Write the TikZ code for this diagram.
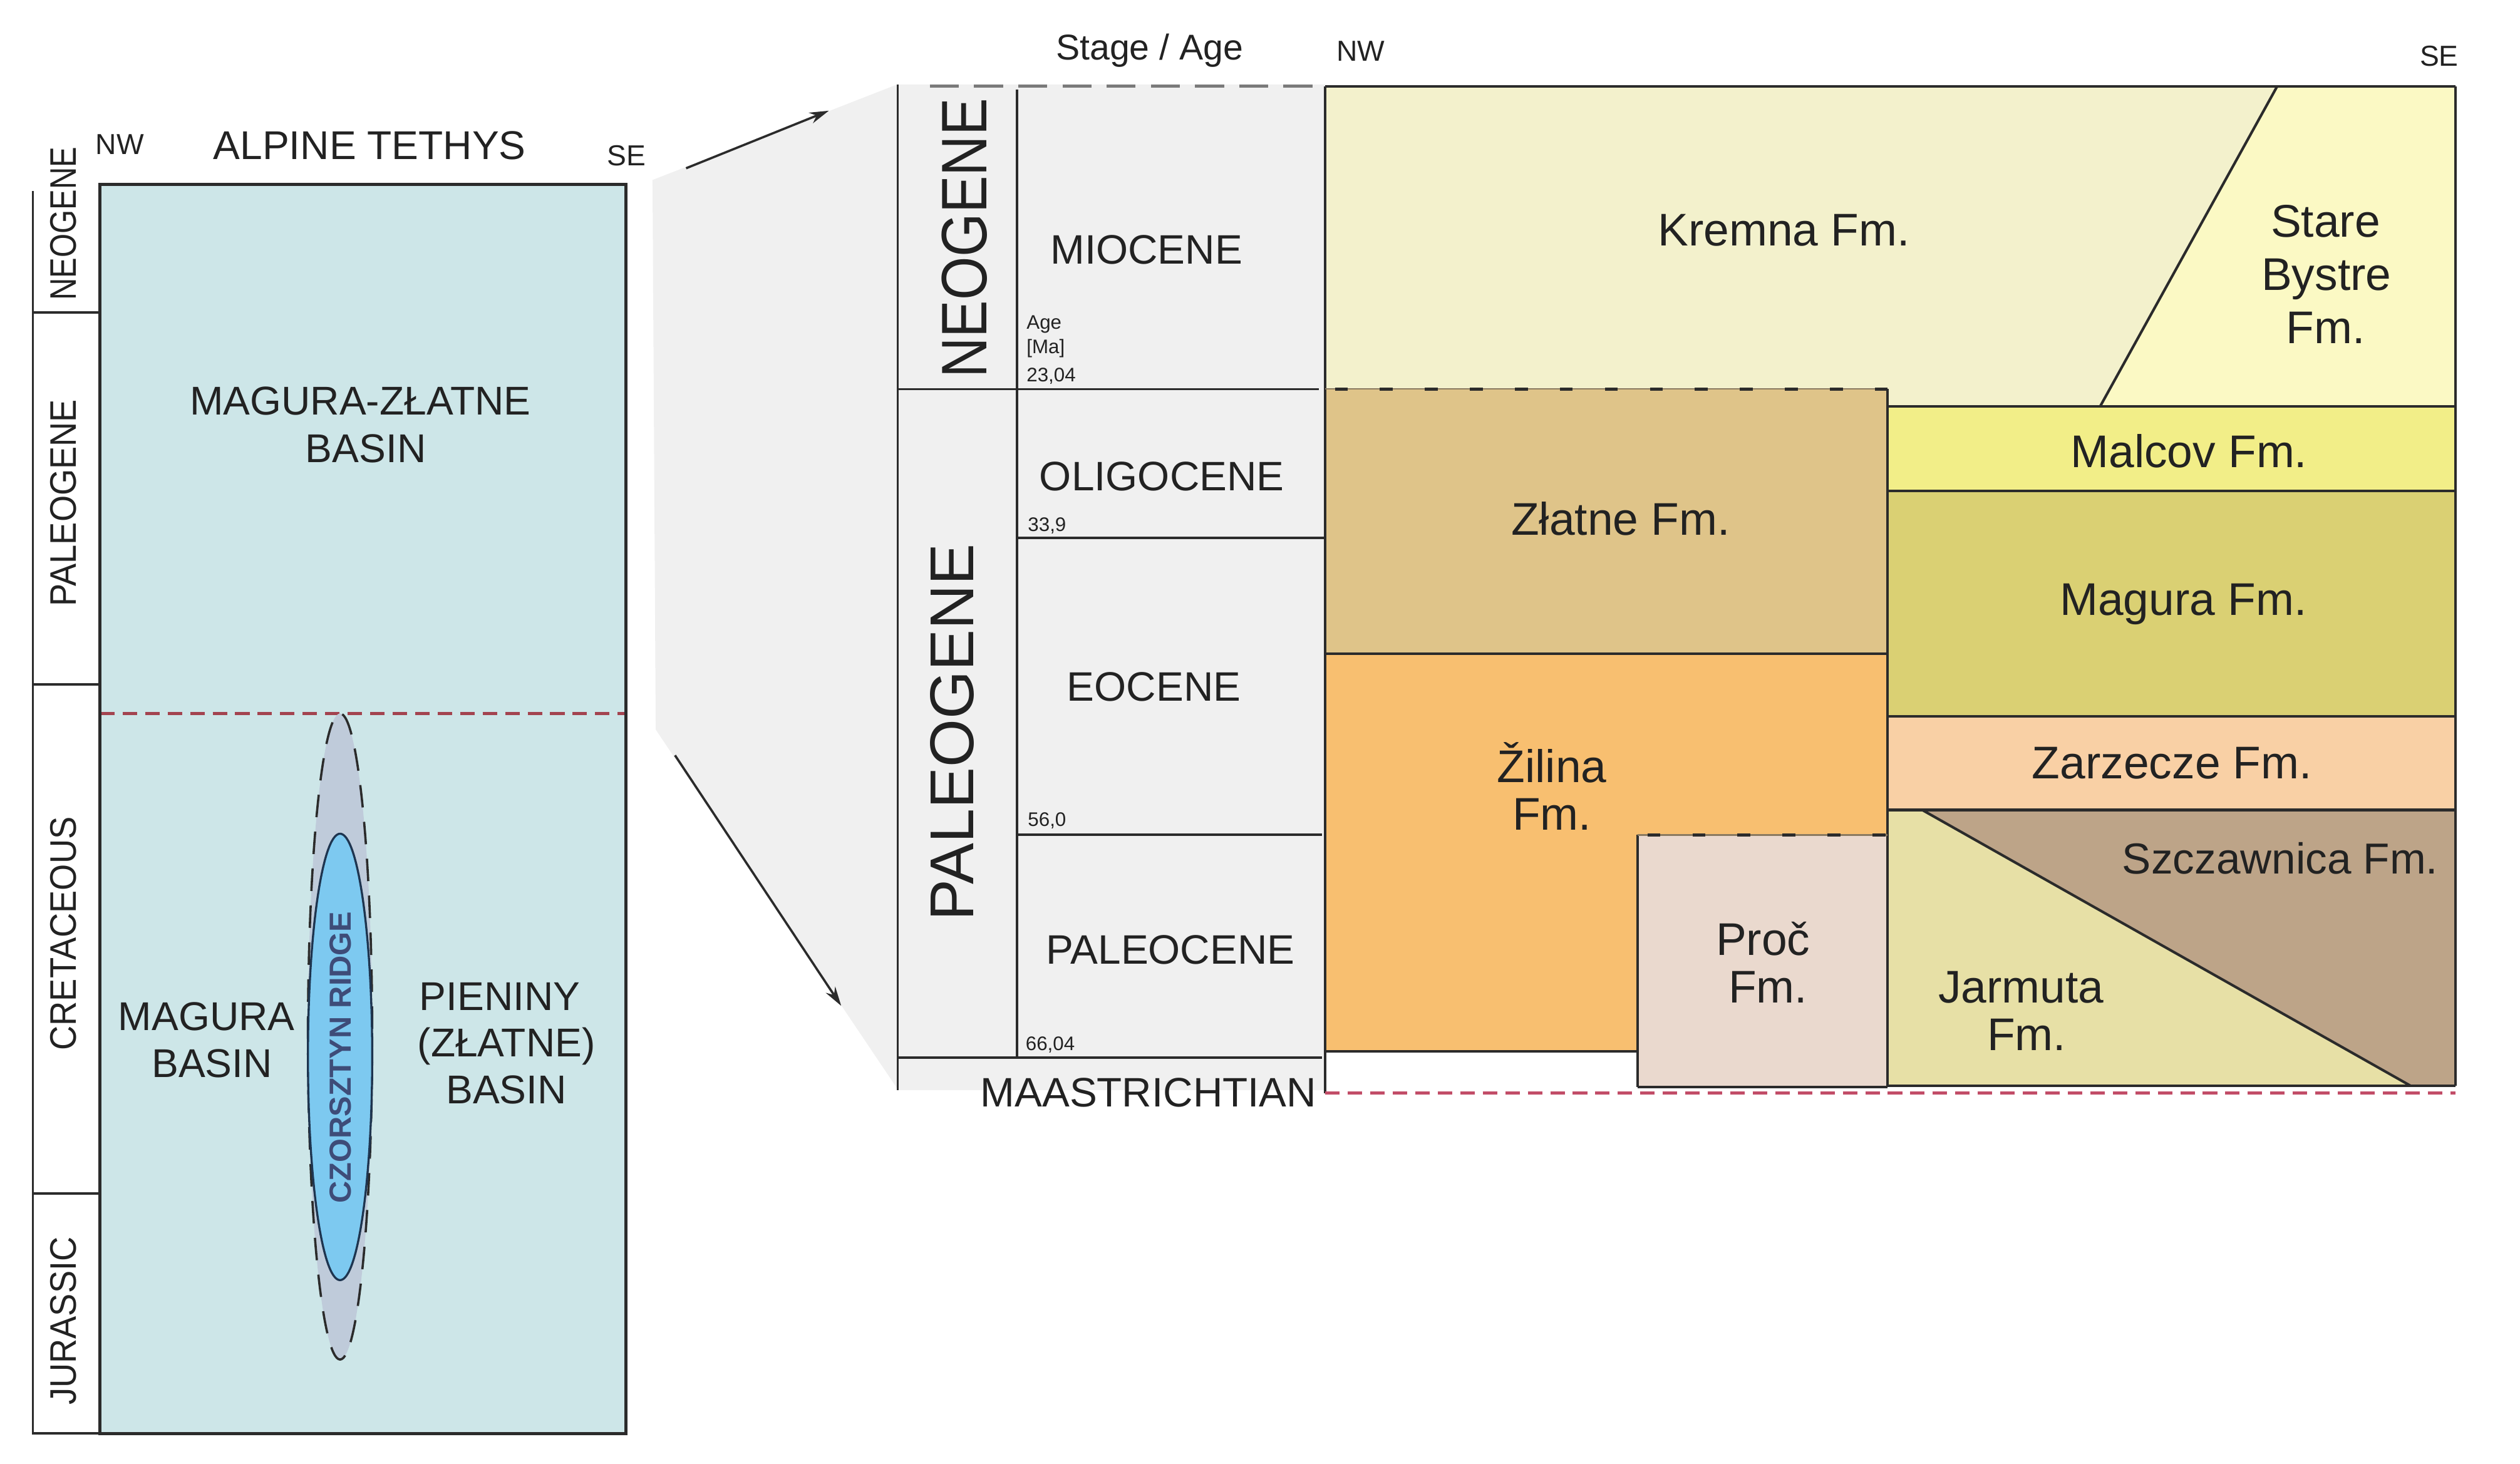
\documentclass[tikz,border=0pt]{standalone}
\usepackage{fontspec}
\usepackage{graphicx}
\setmainfont{Liberation Sans}
\usetikzlibrary{arrows.meta}
\definecolor{boxblue}{HTML}{CDE6E8}
\definecolor{lensgrey}{HTML}{BFCBDA}
\definecolor{ridgeblue}{HTML}{7DC9F0}
\definecolor{ridgeline}{HTML}{1E3550}
\definecolor{ridgetext}{HTML}{3E4C78}
\definecolor{redline}{HTML}{A3434F}
\definecolor{redlineb}{HTML}{C24D68}
\definecolor{tsgrey}{HTML}{F0F0F0}
\definecolor{linecol}{HTML}{2B2B2B}
\definecolor{dashgrey}{HTML}{7A7A7A}
\definecolor{tanline}{HTML}{8A7A60}
\definecolor{kremna}{HTML}{F3F1CC}
\definecolor{stare}{HTML}{FBF9C4}
\definecolor{malcov}{HTML}{F2EE88}
\definecolor{magura}{HTML}{DAD073}
\definecolor{zlatne}{HTML}{DFC489}
\definecolor{zilina}{HTML}{F8BF70}
\definecolor{zarzecze}{HTML}{F9D0A5}
\definecolor{proc}{HTML}{EAD9CE}
\definecolor{jarmuta}{HTML}{E7E0A6}
\definecolor{szcz}{HTML}{BDA488}
\definecolor{textcol}{HTML}{222222}
\newcommand\fBasin{\fontsize{25}{30}\selectfont}
\newcommand\fDir{\fontsize{18}{22}\selectfont}
\newcommand\fPeriod{\fontsize{23}{28}\selectfont}
\newcommand\fStageTxt{\fontsize{25.6}{30}\selectfont}
\newcommand\fForm{\fontsize{28.5}{33}\selectfont}
\newcommand\fAgeTxt{\fontsize{12.2}{15}\selectfont}
\newcommand\fBigPer{\fontsize{38.5}{44}\selectfont}
\begin{document}
\begin{tikzpicture}[x=1pt,y=-1pt,
  txt/.style={inner sep=0pt, outer sep=0pt, anchor=base, text=textcol},
  txtw/.style={txt, anchor=base west},
  rot/.style={inner sep=0pt, outer sep=0pt, anchor=center, rotate=90, text=textcol},
  thinline/.style={draw=linecol, line width=1.4pt},
  fmline/.style={draw=linecol, line width=1.6pt},
  fmdash/.style={draw=linecol, line width=2pt, dash pattern=on 8pt off 20pt, dash phase=-6pt},
  reddash/.style={line width=2pt, dash pattern=on 9pt off 5pt},
  arrowline/.style={draw=linecol, line width=1.4pt, -{Stealth[length=12pt,width=7pt]}}]
\useasboundingbox (0,0) rectangle (1568,911);

% ---------------- left panel ----------------
\fill[boxblue] (62.3,114.9) rectangle (389.6,892);
\draw[reddash, draw=redline] (62.3,444) -- (389.6,444);
\fill[lensgrey] (211.6,645) ellipse [x radius=20, y radius=201];
\draw[draw=linecol, line width=1.4pt, dash pattern=on 14pt off 9pt, dash phase=7pt] (211.6,645) ellipse [x radius=20, y radius=201];
\filldraw[fill=ridgeblue, draw=ridgeline, line width=1.3pt] (211.6,657.7) ellipse [x radius=20, y radius=138.9];
\draw[draw=linecol, line width=2pt] (62.3,114.9) rectangle (389.6,892);
\draw[thinline] (20.5,119) -- (20.5,892) -- (62.3,892);
\draw[thinline] (20.5,194.4) -- (62.3,194.4);
\draw[thinline] (20.5,426) -- (62.3,426);
\draw[thinline] (20.5,742.7) -- (62.3,742.7);

\node[rot, font=\fPeriod] (lneo) at (39.6,139.1) {\scalebox{0.83}[1]{NEOGENE}};
\node[rot, font=\fPeriod] (lpal) at (39.6,313) {\scalebox{0.92}[1]{PALEOGENE}};
\node[rot, font=\fPeriod] (lcre) at (39.6,581) {\scalebox{0.92}[1]{CRETACEOUS}};
\node[rot, font=\fPeriod] (ljur) at (39.6,822) {\scalebox{0.92}[1]{JURASSIC}};

\node[txtw, font=\fDir] (lnw) at (59.6,96.2) {NW};
\node[txtw, font=\fDir] (lse) at (377.8,103.2) {SE};
\node[txt, font=\fBasin] (alp) at (230,99.2) {ALPINE TETHYS};
\node[txt, font=\fBasin] (mz1) at (224.2,258.2) {MAGURA-ZŁATNE};
\node[txt, font=\fBasin] (mz2) at (227.6,287.6) {BASIN};
\node[txt, font=\fBasin] (mb1) at (128.5,641) {MAGURA};
\node[txt, font=\fBasin] (mb2) at (131.9,670.3) {BASIN};
\node[txt, font=\fBasin] (pb1) at (311,628.7) {PIENINY};
\node[txt, font=\fBasin] (pb2) at (315.1,657.6) {(ZŁATNE)};
\node[txt, font=\fBasin] (pb3) at (315.1,686.6) {BASIN};
\node[rot, font=\fontsize{19}{22}\selectfont\bfseries, text=ridgetext] (ridge) at (211.9,658) {CZORSZTYN RIDGE};

% ---------------- connection ----------------
\fill[tsgrey] (406,112) -- (558.1,52.6) -- (824.6,52.6) -- (824.6,678.3) -- (558.9,678.3) -- (408,454) -- cycle;
\coordinate (ua0) at (426.9,104.7);
\coordinate (ua1) at (515.7,68.9);
\coordinate (la0) at (420,470);
\coordinate (la1) at (523.4,625.9);
\draw[arrowline] (ua0) -- (ua1);
\draw[arrowline] (la0) -- (la1);

% ---------------- time scale ----------------
\draw[draw=dashgrey, line width=2pt, dash pattern=on 18pt off 9.5pt] (578.6,53.7) -- (817.8,53.7);
\draw[thinline] (558.5,52.6) -- (558.5,678.3);
\draw[thinline] (632.7,55.9) -- (632.7,658.2);
\draw[thinline] (558.5,242.2) -- (820.6,242.2);
\draw[thinline] (632.7,334.8) -- (824,334.8);
\draw[thinline] (632.7,519.4) -- (822.5,519.4);
\draw[thinline] (558.5,658.2) -- (822.5,658.2);

\node[txt, font=\fontsize{22.3}{26}\selectfont] (stage) at (715.3,37.3) {Stage / Age};
\node[txtw, font=\fDir] (rnw) at (831.6,38) {NW};
\node[txtw, font=\fDir] (rse) at (1505.7,41.3) {SE};
\node[rot, font=\fontsize{40}{46}\selectfont] (rneo) at (600,148.2) {\scalebox{0.87}[1]{NEOGENE}};
\node[rot, font=\fBigPer] (rpal) at (592.5,455.8) {PALEOGENE};
\node[txt, font=\fStageTxt] (mio) at (713.3,164.4) {MIOCENE};
\node[txt, font=\fStageTxt] (oli) at (722.9,305.3) {OLIGOCENE};
\node[txt, font=\fStageTxt] (eoc) at (718,436.3) {EOCENE};
\node[txt, font=\fStageTxt] (pcn) at (728.3,599.9) {PALEOCENE};
\node[txt, font=\fStageTxt] (maa) at (714.6,688.9) {MAASTRICHTIAN};
\node[txtw, font=\fAgeTxt] (age1) at (638.8,204.6) {Age};
\node[txtw, font=\fAgeTxt] (age2) at (638.8,220) {[Ma]};
\node[txtw, font=\fAgeTxt] (a23) at (638.8,237.5) {23,04};
\node[txtw, font=\fAgeTxt] (a33) at (639.6,330.6) {33,9};
\node[txtw, font=\fAgeTxt] (a56) at (639.6,514.2) {56,0};
\node[txtw, font=\fAgeTxt] (a66) at (638.2,653.5) {66,04};

% ---------------- formations ----------------
\fill[kremna] (824.6,53.7) -- (1416.9,53.7) -- (1306.9,252.6) -- (1174.5,252.6) -- (1174.5,242) -- (824.6,242) -- cycle;
\fill[stare] (1416.9,53.7) -- (1527.8,53.7) -- (1527.8,252.8) -- (1306.9,252.6) -- cycle;
\fill[malcov] (1174.5,252.8) rectangle (1527.8,305.4);
\fill[magura] (1174.5,305.4) rectangle (1527.8,445.7);
\fill[zarzecze] (1174.5,445.7) rectangle (1527.8,504);
\fill[szcz] (1196,504) -- (1527.8,504) -- (1527.8,675.5) -- (1499.6,675.5) -- cycle;
\fill[jarmuta] (1174.5,504) -- (1196,504) -- (1499.6,675.5) -- (1174.5,675.5) -- cycle;
\fill[zlatne] (824.6,242) rectangle (1174.5,406.8);
\fill[zilina] (824.6,406.8) -- (1174.5,406.8) -- (1174.5,519.6) -- (1019.1,519.6) -- (1019.1,654.2) -- (824.6,654.2) -- cycle;
\fill[proc] (1019.1,519.6) rectangle (1174.5,676.4);
\fill[white] (824.6,654.2) rectangle (1019.1,680);

\draw[fmline] (824.6,53.7) -- (1527.8,53.7);
\draw[fmline] (1527.8,53.7) -- (1527.8,675.5);
\draw[fmline] (824.6,53.7) -- (824.6,680.2);
\draw[fmline] (1416.9,53.7) -- (1306.9,252.6);
\draw[fmline] (1174.5,252.8) -- (1527.8,252.8);
\draw[fmline] (1174.5,305.4) -- (1527.8,305.4);
\draw[fmline] (1174.5,445.7) -- (1527.8,445.7);
\draw[fmline] (1174.5,504) -- (1527.8,504);
\draw[fmline] (1196,504) -- (1499.6,675.5);
\draw[fmline] (1174.5,675.5) -- (1527.8,675.5);
\draw[fmline] (1174.5,242) -- (1174.5,676.4);
\draw[fmline] (824.6,406.8) -- (1174.5,406.8);
\draw[fmline] (824.6,654.2) -- (1019.1,654.2);
\draw[fmline] (1019.1,519.6) -- (1019.1,676.4);
\draw[fmline] (1019.1,676.4) -- (1174.5,676.4);
\draw[draw=tanline, line width=0.8pt] (824.6,242) -- (1174.5,242);
\draw[fmdash] (824.6,242) -- (1174.5,242);
\draw[draw=tanline, line width=0.8pt] (1019.1,519.6) -- (1174.5,519.6);
\draw[fmdash] (1019.1,519.6) -- (1174.5,519.6);
\draw[reddash, draw=redlineb] (824.6,680.2) -- (1527.8,680.2);

\node[txt, font=\fForm] (fkre) at (1110,153) {Kremna Fm.};
\node[txt, font=\fForm] (fsb1) at (1447,147.6) {Stare};
\node[txt, font=\fForm] (fsb2) at (1447.5,180.5) {Bystre};
\node[txt, font=\fForm] (fsb3) at (1447,213.6) {Fm.};
\node[txt, font=\fForm] (fmal) at (1362,290.8) {Malcov Fm.};
\node[txt, font=\fForm] (fzla) at (1008.4,333) {Złatne Fm.};
\node[txt, font=\fForm] (fmag) at (1358.5,382.7) {Magura Fm.};
\node[txt, font=\fForm] (fzar) at (1351.5,484.7) {Zarzecze Fm.};
\node[txt, font=\fontsize{27}{32}\selectfont] (fszc) at (1418.8,543.7) {Szczawnica Fm.};
\node[txt, font=\fForm] (fzi1) at (965.6,487) {Žilina};
\node[txt, font=\fForm] (fzi2) at (965.6,516.5) {Fm.};
\node[txt, font=\fForm] (fpr1) at (1097,594.5) {Proč};
\node[txt, font=\fForm] (fpr2) at (1100,624) {Fm.};
\node[txt, font=\fForm] (fja1) at (1257.5,624) {Jarmuta};
\node[txt, font=\fForm] (fja2) at (1261,653.5) {Fm.};
\end{tikzpicture}
\end{document}
